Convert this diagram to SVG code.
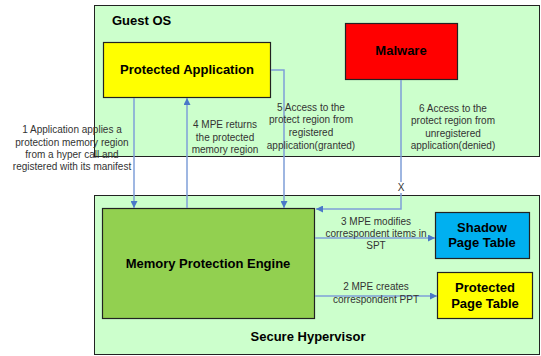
<svg xmlns="http://www.w3.org/2000/svg" width="541" height="356" viewBox="0 0 541 356">
<defs>
<style>
.zone{fill:#ccffcc;stroke:#222;stroke-width:1}
.box{stroke:#222;stroke-width:1.2}
.title{font-family:"Liberation Sans",Arial,sans-serif;font-weight:bold;font-size:13px;fill:#000}
.lbl{font-family:"Liberation Sans",Arial,sans-serif;font-size:10px;fill:#333;text-anchor:middle}
.c{fill:none;stroke:#7f9fd8;stroke-width:1.5}
</style>
<marker id="ah" viewBox="0 0 10 10" refX="10" refY="5" markerWidth="7" markerHeight="7" markerUnits="userSpaceOnUse" orient="auto">
<path d="M0,0 L10,5 L0,10 Z" fill="#4a78c8"/>
</marker>
</defs>
<rect width="541" height="356" fill="#fff"/>
<g id="guest-os">
<rect class="zone" x="94.5" y="5.5" width="445" height="151"/>
<text class="title" x="112" y="25" font-size="12">Guest OS</text>
</g>
<g id="secure-hypervisor">
<rect class="zone" x="94.5" y="195.5" width="445" height="159"/>
<text class="title" x="308" y="341" text-anchor="middle">Secure Hypervisor</text>
</g>
<g id="protected-application">
<rect class="box" x="103.5" y="42.5" width="167" height="55" fill="#ffff00"/>
<text class="title" x="187" y="74" text-anchor="middle">Protected Application</text>
</g>
<g id="malware">
<rect class="box" x="345.5" y="23.5" width="112" height="56" fill="#ff0000"/>
<text class="title" x="401" y="55" text-anchor="middle">Malware</text>
</g>
<g id="mpe">
<rect class="box" x="102.5" y="208.5" width="212" height="110" fill="#92d050"/>
<text class="title" x="208" y="268" text-anchor="middle">Memory Protection Engine</text>
</g>
<g id="shadow-page-table">
<rect class="box" x="435.5" y="212.5" width="94" height="46" fill="#00b0f0"/>
<text class="title" x="482" y="232" text-anchor="middle">Shadow</text>
<text class="title" x="482" y="247" text-anchor="middle">Page Table</text>
</g>
<g id="protected-page-table">
<rect class="box" x="437.5" y="272.5" width="95" height="46" fill="#ffff00"/>
<text class="title" x="485" y="292" text-anchor="middle">Protected</text>
<text class="title" x="485" y="308" text-anchor="middle">Page Table</text>
</g>
<g id="connectors">
<path class="c" d="M134,98 V208" marker-end="url(#ah)"/>
<path class="c" d="M187,208 V98" marker-end="url(#ah)"/>
<path class="c" d="M271,70 H284 V208" marker-end="url(#ah)"/>
<path class="c" d="M401,80 V209 H316" marker-end="url(#ah)"/>
<path class="c" d="M315,238 H435" marker-end="url(#ah)"/>
<path class="c" d="M315,296 H437" marker-end="url(#ah)"/>
</g>
<g id="labels">
<text class="lbl" x="72" y="133">1 Application applies a</text>
<text class="lbl" x="72" y="145.5">protection memory region</text>
<text class="lbl" x="72" y="158">from a hyper call and</text>
<text class="lbl" x="72" y="170">registered with its manifest</text>
<text class="lbl" x="225" y="128">4 MPE returns</text>
<text class="lbl" x="225" y="141">the protected</text>
<text class="lbl" x="225" y="153">memory region</text>
<text class="lbl" x="311" y="111">5 Access to the</text>
<text class="lbl" x="311" y="123">protect region from</text>
<text class="lbl" x="311" y="136">registered</text>
<text class="lbl" x="311" y="149">application(granted)</text>
<text class="lbl" x="453" y="112">6 Access to the</text>
<text class="lbl" x="453" y="124">protect region from</text>
<text class="lbl" x="453" y="137">unregistered</text>
<text class="lbl" x="453" y="149">application(denied)</text>
<rect x="396" y="182" width="10" height="11" fill="#fff"/>
<text class="lbl" x="401" y="191">X</text>
<text class="lbl" x="376" y="225">3 MPE modifies</text>
<text class="lbl" x="376" y="237">correspondent items in</text>
<text class="lbl" x="376" y="249">SPT</text>
<text class="lbl" x="376" y="290">2 MPE creates</text>
<text class="lbl" x="376" y="303">correspondent PPT</text>
</g>
</svg>
